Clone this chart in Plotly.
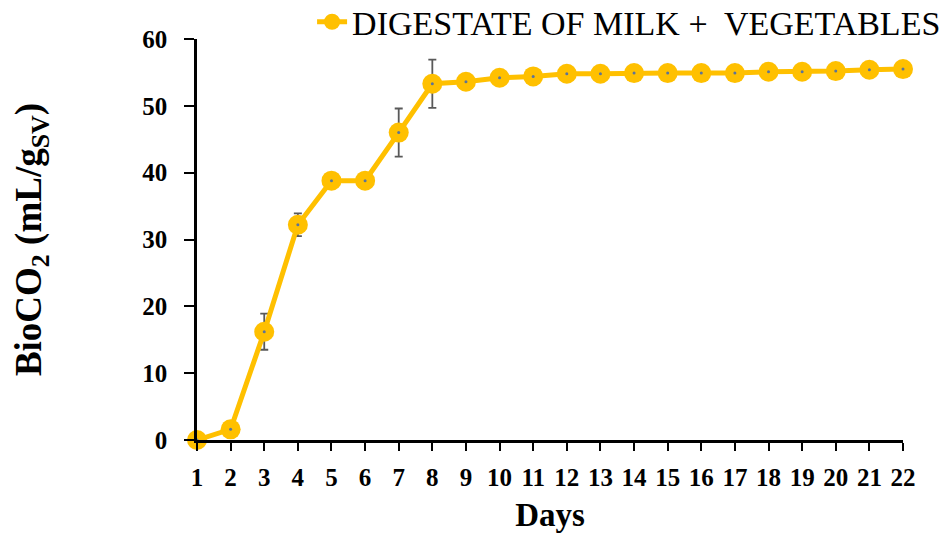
import plotly.graph_objects as go

# Cumulative BioCO2 yield per day
days = list(range(1, 23))
bioco2 = [0.0, 1.6, 16.2, 32.2, 38.8, 38.8, 46.0, 53.3, 53.6, 54.2, 54.4,
          54.8, 54.8, 54.9, 54.9, 54.9, 54.9, 55.1, 55.1, 55.2, 55.4, 55.5]
err = [0, 0, 2.7, 1.7, 0, 0, 3.6, 3.6, 0, 0, 0,
       0, 0, 0, 0, 0, 0, 0, 0, 0, 0, 0]
series_name = "DIGESTATE OF MILK +  VEGETABLES"
tick_text = [str(d) for d in days]

SERIF = "Liberation Serif, Times New Roman, serif"
ORANGE = "#FFC000"

fig = go.Figure()
fig.add_trace(go.Scatter(
    x=days, y=bioco2, name=series_name, mode="lines+markers",
    line=dict(color=ORANGE, width=5),
    marker=dict(color=ORANGE, size=20, line=dict(width=0)),
    error_y=dict(type="data", array=err, visible=True, color="#595959",
                 thickness=1.8, width=4),
    cliponaxis=False,
))
# small centre dot on each marker
fig.add_trace(go.Scatter(
    x=days, y=bioco2, mode="markers", showlegend=False, hoverinfo="skip",
    marker=dict(color="#5B7399", size=3), cliponaxis=False,
))

fig.update_layout(
    width=948, height=545,
    margin=dict(l=197, r=45, t=39, b=105, autoexpand=False),
    paper_bgcolor="white", plot_bgcolor="white",
    font=dict(family=SERIF, color="black"),
    legend=dict(x=0.163, y=1.042, xanchor="left", yanchor="middle",
                font=dict(family=SERIF, size=34, color="black"),
                bgcolor="rgba(0,0,0,0)", itemwidth=30),
    showlegend=True,
)
fig.update_xaxes(
    range=[1, 22], tickmode="array", tickvals=days, ticktext=tick_text,
    showline=True, linecolor="black", linewidth=2.5,
    ticks="outside", ticklen=8, tickwidth=2, tickcolor="black",
    showgrid=False, zeroline=False, ticklabelstandoff=5,
    tickfont=dict(family=SERIF, size=25, color="black", weight="bold"),
    title=dict(text="<b>Days</b>", font=dict(family=SERIF, size=33), standoff=14),
)
fig.update_yaxes(
    range=[0, 60], tickvals=[0, 10, 20, 30, 40, 50, 60],
    showline=True, linecolor="black", linewidth=2.5,
    ticks="outside", ticklen=10, tickwidth=2, tickcolor="black",
    showgrid=False, zeroline=False, ticklabelstandoff=12,
    tickfont=dict(family=SERIF, size=25, color="black", weight="bold"),
    title=dict(text="<b>BioCO<sub>2</sub> (mL/g<sub>SV</sub>)</b>",
               font=dict(family=SERIF, size=37), standoff=90),
)

fig.write_html("out.html")
